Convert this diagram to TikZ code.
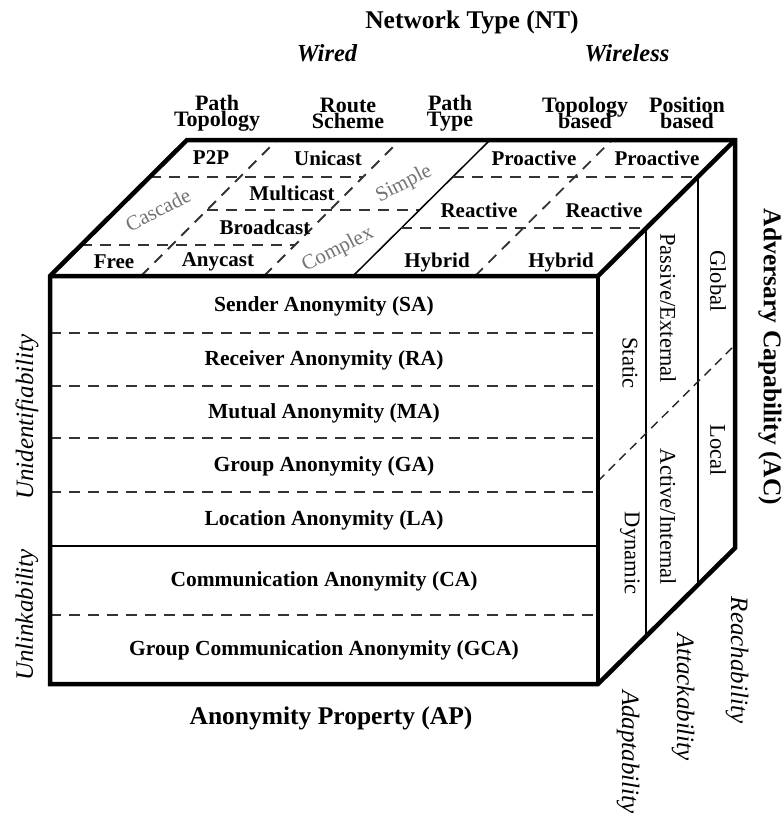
\documentclass[tikz,border=0pt]{standalone}
\usepackage{fontspec}
\setmainfont{Liberation Serif}
\usetikzlibrary{calc}

\begin{document}
\begin{tikzpicture}[
  x=1pt, y=-1pt,
  rim/.style={line width=4.5pt, line join=miter},
  wall/.style={line width=1.5pt},
  seam/.style={line width=1.8pt, dash pattern=on 11pt off 8pt, black!80},
  fold/.style={line width=1.4pt, dash pattern=on 9pt off 6pt, black!85},
  prop/.style={inner sep=0pt, font=\fontsize{21.5}{22}\selectfont\bfseries},
  cell/.style={inner sep=0pt, font=\fontsize{21}{22}\selectfont\bfseries},
  colhead/.style={inner sep=0pt, align=center, font=\fontsize{22}{22}\selectfont\bfseries},
  hint/.style={inner sep=0pt, rotate=27, text=black!55, font=\fontsize{21}{22}\selectfont},
  adv/.style={inner sep=0pt, rotate=-90, font=\fontsize{22.5}{23}\selectfont},
  facet/.style={inner sep=0pt, font=\fontsize{25}{26}\selectfont\itshape},
  axis/.style={inner sep=0pt, font=\fontsize{25.5}{26}\selectfont\bfseries},
  kind/.style={inner sep=0pt, font=\fontsize{24.5}{26}\selectfont\bfseries\itshape}
]
\useasboundingbox (0,0) rectangle (784,819);

% Cube corners
\coordinate (ftl) at (50,276);
\coordinate (ftr) at (598,276);
\coordinate (fbr) at (598,684);
\coordinate (fbl) at (50,684);
\coordinate (btl) at (187,140);
\coordinate (btr) at (735,140);
\coordinate (bbr) at (735,548);

% Front face: anonymity property
\foreach \y in {333,386,438,492,615}
  \draw[seam] (50,\y) -- (598,\y);
\draw[wall] (50,546) -- (598,546);

\node[prop] (sa) at (324,306) {Sender Anonymity (SA)};
\node[prop] (ra) at (324,360) {Receiver Anonymity (RA)};
\node[prop] (ma) at (324,413) {Mutual Anonymity (MA)};
\node[prop] (ga) at (324,466) {Group Anonymity (GA)};
\node[prop] (la) at (324,520) {Location Anonymity (LA)};
\node[prop] (ca) at (324,581) {Communication Anonymity (CA)};
\node[prop] (gca) at (324,650) {Group Communication Anonymity (GCA)};

% Top face: wired
\draw[seam] (141,276) -- (277,140);
\draw[seam] (264,276) -- (400,140);
\draw[seam] (150,177) -- (363,177);
\draw[seam] (207,210) -- (419,210);
\draw[seam] (81,245) -- (295,245);
\draw[wall] (353,276) -- (490,140);

\node[cell] (p2p) at (211,158) {P2P};
\node[cell] (uni) at (328,158) {Unicast};
\node[cell] (multi) at (292,193) {Multicast};
\node[cell] (broad) at (265,227) {Broadcast};
\node[cell] (free) at (114,262) {Free};
\node[cell] (any) at (218,262) {Anycast};
\node[hint] (cascade) at (158,210) {Cascade};
\node[hint] (simple) at (404,184) {Simple};
\node[hint] (complex) at (338,250) {Complex};

% Top face: wireless
\draw[seam] (475,276) -- (612,140);
\draw[seam] (453,177) -- (698,177);
\draw[seam] (401,228) -- (646,228);

\node[cell] (pro1) at (534,158) {Proactive};
\node[cell] (pro2) at (657,158) {Proactive};
\node[cell] (re1) at (479,210) {Reactive};
\node[cell] (re2) at (604,210) {Reactive};
\node[cell] (hy1) at (437,262) {Hybrid};
\node[cell] (hy2) at (561,262) {Hybrid};

% Right face: adversary capability
\draw[wall] (646,228) -- (646,636);
\draw[wall] (698,177) -- (698,585);
\draw[fold] (598,481) -- (735,345);

\node[adv] (static) at (630,363) {Static};
\node[adv] (dynamic) at (630,553) {Dynamic};
\node[adv] (passive) at (668,308) {Passive/External};
\node[adv] (active) at (668,517) {Active/Internal};
\node[adv] (global) at (718,281) {Global};
\node[adv] (local) at (718,450) {Local};

% Cube outline
\draw[rim] (fbl) -- (ftl) -- (btl) -- (btr) -- (bbr) -- (fbr) -- cycle;
\draw[rim] (ftl) -- (ftr) -- (btr);
\draw[rim] (ftr) -- (fbr);

% Column heads
\node[colhead] (ptopo) at (217,113) {Path\\[-6pt]Topology};
\node[colhead] (rscheme) at (348,113) {Route\\[-6pt]Scheme};
\node[colhead] (ptype) at (450,113) {Path\\[-6pt]Type};
\node[colhead] (tbased) at (585,113) {Topology\\[-6pt]based};
\node[colhead] (pbased) at (687,113) {Position\\[-6pt]based};

% Axis titles
\node[axis] (nt) at (472,22) {Network Type (NT)};
\node[kind] (wired) at (327,53) {Wired};
\node[kind] (wireless) at (627,53) {Wireless};
\node[axis] (ap) at (331,718) {Anonymity Property (AP)};
\node[axis, rotate=-90] (ac) at (770,357) {Adversary Capability (AC)};

% Facets
\node[facet, rotate=90] (unid) at (27,417) {Unidentifiability};
\node[facet, rotate=90] (unlink) at (27,615) {Unlinkability};
\node[facet, rotate=-90] (reach) at (737,660) {Reachability};
\node[facet, rotate=-90] (attack) at (683,697) {Attackability};
\node[facet, rotate=-90] (adapt) at (628,752) {Adaptability};

\end{tikzpicture}
\end{document}
